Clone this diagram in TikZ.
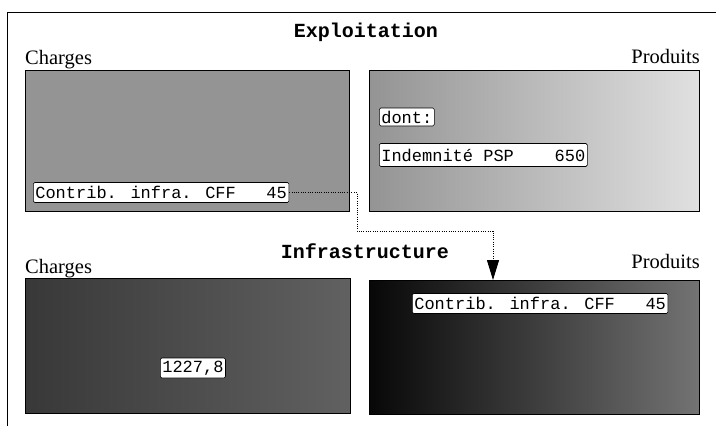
\documentclass[tikz,border=0pt]{standalone}
\usepackage{fontspec}
\setmainfont{Liberation Serif}
\newfontfamily\monofam{Liberation Mono}
\usetikzlibrary{arrows.meta}
\begin{document}
\begin{tikzpicture}[x=1pt,y=-1pt,
  panel/.style={draw=black, line width=1.4pt, inner sep=0pt, anchor=north west},
  tag/.style={draw=black, fill=white, line width=0.6pt, rounded corners=1.5pt,
    font=\monofam\fontsize{17}{17}\selectfont, inner xsep=2pt, inner ysep=0pt,
    minimum height=20pt, anchor=west},
  head/.style={font=\monofam\bfseries\fontsize{20}{20}\selectfont, inner sep=0pt, anchor=base},
  side/.style={font=\fontsize{20.5}{20.5}\selectfont, inner sep=0pt},
  link/.style={line width=1pt, dash pattern=on 1pt off 1.3pt}
]
\useasboundingbox (0,0) rectangle (716,426);
% frame (top and left edges visible)
\draw[line width=1pt] (7,426) -- (7,12) -- (716,12);

% titles
\node[head] (t1) at (366,37) {Exploitation};
\node[head] (t2) at (365,258) {Infrastructure};
\node[side, anchor=base west] (l1) at (25,64) {Charges};
\node[side, anchor=base east] (r1) at (700,63) {Produits};
\node[side, anchor=base west] (l2) at (25,273) {Charges};
\node[side, anchor=base east] (r2) at (700,268) {Produits};

% panels
\node[panel, fill=black!42, minimum width=324pt, minimum height=141pt] (ec) at (25,70) {};
\node[panel, left color=black!42, right color=black!12, minimum width=330pt, minimum height=141pt] (ep) at (369,70) {};
\node[panel, left color=black!78, right color=black!62, minimum width=325pt, minimum height=135pt] (ic) at (25,278) {};
\node[panel, left color=black!97, right color=black!55, minimum width=330pt, minimum height=134pt] (ip) at (369,280) {};

% tags
\node[tag] (c1) at (33,192.5) {Contrib. infra. CFF\ \ \ 45};
\node[tag, minimum height=18pt] (dn) at (379,117) {dont:};
\node[tag, minimum height=23pt] (psp) at (379,155) {Indemnité PSP\ \ \ \ 650};
\node[tag] (val) at (160,368) {1227,8};
\node[tag] (c2) at (412,303.5) {Contrib. infra. CFF\ \ \ 45};

% connector
\coordinate (k1) at (357,192.5);
\coordinate (k2) at (357,231);
\coordinate (k3) at (493,231);
\draw[link, -{Triangle[length=20pt,width=12pt]}] (c1.east) -- (k1) -- (k2) -- (k3) -- (k3 |- ip.north);
\end{tikzpicture}
\end{document}
